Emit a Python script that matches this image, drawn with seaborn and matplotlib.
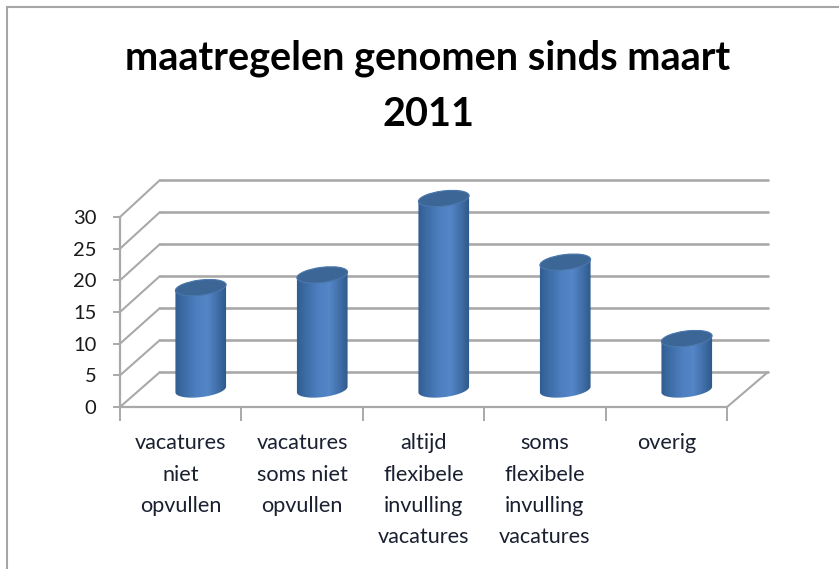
import numpy as np
import matplotlib
matplotlib.use("Agg")
import matplotlib.pyplot as plt
from matplotlib.colors import LinearSegmentedColormap
from matplotlib.patches import ConnectionPatch, Ellipse, Rectangle
from matplotlib.path import Path
from matplotlib.transforms import IdentityTransform
import seaborn as sns

categories = ["vacatures\nniet\nopvullen", "vacatures\nsoms niet\nopvullen",
              "altijd\nflexibele\ninvulling\nvacatures",
              "soms\nflexibele\ninvulling\nvacatures", "overig"]
values = [16, 18, 30, 20, 8]
y_ticks = [0, 5, 10, 15, 20, 25, 30]
title = "maatregelen genomen sinds maart\n2011"

W, H = 839, 569
GRID = "#a9a9a9"
sns.set_style("white")
plt.rcParams["font.family"] = ["Lato", "DejaVu Sans"]

fig = plt.figure(figsize=(W / 100, H / 100), dpi=100, facecolor="white")


def px_axes(left, top, right, bottom, z):
    a = fig.add_axes([left / W, 1 - bottom / H, (right - left) / W, (bottom - top) / H], zorder=z)
    a.patch.set_alpha(0)
    a.set_xlim(-0.5, 4.5)
    a.set_ylim(0, 30)
    return a


back = px_axes(160, 180, 768, 372, 1)
front = px_axes(120, 217, 727, 407, 2)
cyl = px_axes(140, 198.5, 747.5, 389.5, 3)

# back wall gridlines
back.set_yticks(y_ticks)
back.set_xticks([])
back.tick_params(left=False, labelleft=False)
back.grid(axis="y", color=GRID, lw=1.9)
for s in back.spines.values():
    s.set_visible(False)
for ln in back.get_ygridlines():
    ln.set_clip_on(False)

# front axis
for s in ["top", "right"]:
    front.spines[s].set_visible(False)
for s in ["left", "bottom"]:
    front.spines[s].set_color(GRID)
    front.spines[s].set_linewidth(1.6)
front.set_yticks(y_ticks)
front.set_yticklabels([str(v) for v in y_ticks], fontsize=14.5, color="#1a1a1a")
front.set_xticks(np.arange(-0.5, 5, 1))
front.set_xticklabels([])
front.set_xticks(range(5), categories, minor=True, fontsize=15.6, color="#1a2030",
                 linespacing=1.70, va="top", ha="center")
front.tick_params(axis="y", length=5, width=1.4, color=GRID, left=True, pad=12)
front.tick_params(axis="x", which="major", length=10, width=1.4, color=GRID, bottom=True)
front.tick_params(axis="x", which="minor", length=0, pad=19)

# floor and side wall edges
for v in y_ticks:
    fig.add_artist(ConnectionPatch((-0.5, v), (-0.5, v), coordsA=front.transData, coordsB=back.transData,
                                   color=GRID, lw=1.5, zorder=1.5))
fig.add_artist(ConnectionPatch((4.5, 0), (4.5, 0), coordsA=front.transData, coordsB=back.transData,
                               color=GRID, lw=1.5, zorder=1.5))

# cylinders
sns.barplot(x=list(range(5)), y=values, ax=cyl, color="#4f81bd", width=0.42, saturation=1)
cyl.set_axis_off()
cmap = LinearSegmentedColormap.from_list(
    "cyl", [(0, "#2f5b8f"), (0.18, "#3d6ca6"), (0.42, "#4e7fc0"), (0.62, "#5486c8"),
            (0.82, "#3f6da6"), (1, "#2c5585")])
grad = np.linspace(0, 1, 256).reshape(1, -1)
TILT = np.deg2rad(7)
RY = 7.6
for bar in list(cyl.containers[0]):
    x0, w, h = bar.get_x(), bar.get_width(), bar.get_height()
    bar.set_visible(False)
    (pl, pb), (pr, pt) = cyl.transData.transform([(x0, 0), (x0 + w, h)])
    cx, rx = (pl + pr) / 2, (pr - pl) / 2
    t = np.linspace(np.pi, 2 * np.pi, 60)
    ex = rx * np.cos(t)
    ey = RY * np.sin(t)
    px = cx + ex * np.cos(TILT) - ey * np.sin(TILT)
    py = pb + ex * np.sin(TILT) + ey * np.cos(TILT)
    verts = np.column_stack([px, py])
    top_r = [cx + rx * np.cos(TILT), pt + rx * np.sin(TILT)]
    top_l = [cx - rx * np.cos(TILT), pt - rx * np.sin(TILT)]
    verts = np.vstack([[top_l], verts, [top_r], [top_l]])
    im = cyl.imshow(grad, cmap=cmap, aspect="auto", extent=(x0 - 0.01, x0 + w + 0.01, -3, h + 3),
                    zorder=3, interpolation="bilinear")
    im.set_clip_box(fig.bbox)
    im.set_clip_path(Path(verts), IdentityTransform())
    cyl.add_artist(Ellipse((cx, pt), 2 * rx, 2 * RY, angle=np.rad2deg(TILT), transform=IdentityTransform(),
                           facecolor="#3c6696", edgecolor="#4a78ad", lw=0.8, zorder=4, clip_on=False))
cyl.set_xlim(-0.5, 4.5)
cyl.set_ylim(0, 30)

# title
fig.text(428 / W, 1 - 58 / H, title.split("\n")[0], ha="center", va="center",
         fontsize=28.5, fontweight="bold", color="black")
fig.text(428 / W, 1 - 115 / H, title.split("\n")[1], ha="center", va="center",
         fontsize=28.5, fontweight="bold", color="black")

# outer frame
fig.add_artist(Rectangle((6.5 / W, -0.05), 2, 1 + 0.05 - 6.5 / H, transform=fig.transFigure,
                         fill=False, edgecolor="#a6a6a6", lw=1.5))

fig.savefig("out.png", dpi=100, facecolor="white")
